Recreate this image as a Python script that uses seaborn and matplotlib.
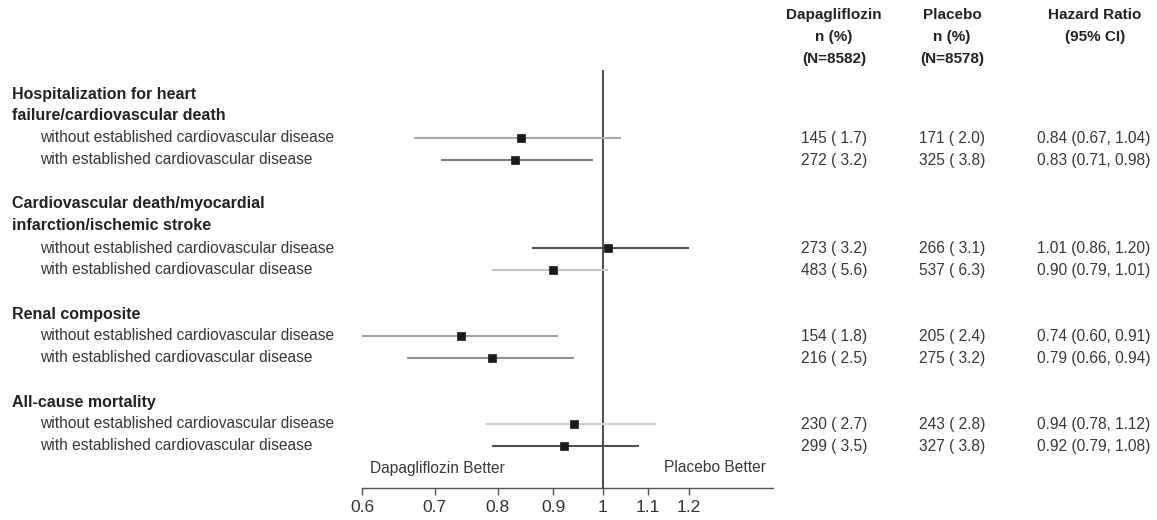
import numpy as np
import pandas as pd
import matplotlib
matplotlib.use("Agg")
import matplotlib.pyplot as plt
import seaborn as sns

# Endpoints and subgroup rows
endpoints = [
    "Hospitalization for heart\nfailure/cardiovascular death",
    "Cardiovascular death/myocardial\ninfarction/ischemic stroke",
    "Renal composite",
    "All-cause mortality",
]
subgroups = ["without established cardiovascular disease",
             "with established cardiovascular disease"]

# Per-row values (endpoint-major order: without, with)
dapa_n = [145, 272, 273, 483, 154, 216, 230, 299]
dapa_pct = [1.7, 3.2, 3.2, 5.6, 1.8, 2.5, 2.7, 3.5]
plac_n = [171, 325, 266, 537, 205, 275, 243, 327]
plac_pct = [2.0, 3.8, 3.1, 6.3, 2.4, 3.2, 2.8, 3.8]
hr = [0.84, 0.83, 1.01, 0.90, 0.74, 0.79, 0.94, 0.92]
ci_low = [0.67, 0.71, 0.86, 0.79, 0.60, 0.66, 0.78, 0.79]
ci_high = [1.04, 0.98, 1.20, 1.01, 0.91, 0.94, 1.12, 1.08]
ci_colors = ["#a8a8a8", "#7a7a7a", "#505050", "#c4c4c4",
             "#a0a0a0", "#909090", "#d0d0d0", "#505050"]

tick_values = [0.6, 0.7, 0.8, 0.9, 1, 1.1, 1.2]
tick_labels = ["0.6", "0.7", "0.8", "0.9", "1", "1.1", "1.2"]

sns.set_theme(style="white")
plt.rcParams["font.family"] = ["Liberation Sans", "DejaVu Sans"]

W, H = 1157, 520
fig = plt.figure(figsize=(W / 100, H / 100), dpi=100)

# Text line layout (line units, 22 px per line)
Y0, LH = 94, 22
row_lines = []
title_lines = []
line = 0
for e, name in enumerate(endpoints):
    title_lines.append(line)
    line += name.count("\n") + 1
    for s in range(2):
        row_lines.append(line)
        line += 1
    line += 1  # blank gap


def fy(L):
    return 1 - (Y0 + LH * L) / H


def fx(px):
    return px / W


# Forest axes: log-scaled x, y in line units
ax_left, ax_right = 362, 773
ax_top, ax_bottom = 70, 488
ax = fig.add_axes([fx(ax_left), 1 - ax_bottom / H,
                   (ax_right - ax_left) / W, (ax_bottom - ax_top) / H])
ax.set_xscale("log")
ax.set_xlim(0.6, 1.434)
ax.set_ylim((ax_bottom - Y0) / LH, (ax_top - Y0) / LH)

df = pd.DataFrame({"hr": hr, "lo": ci_low, "hi": ci_high,
                   "y": row_lines, "color": ci_colors})

for _, r in df.iterrows():
    ax.hlines(r["y"], r["lo"], r["hi"], color=r["color"], lw=1.5, zorder=2)
sns.scatterplot(data=df, x="hr", y="y", marker="s", s=32, color="#1a1a1a",
                edgecolor="#1a1a1a", linewidth=0.5, ax=ax, zorder=3, legend=False)
ax.axvline(1.0, color="#3a3a3a", lw=1.3, zorder=1)

for sp in ["left", "top", "right"]:
    ax.spines[sp].set_visible(False)
ax.spines["bottom"].set_color("#555555")
ax.spines["bottom"].set_linewidth(1.0)
ax.set_yticks([])
ax.set_xticks(tick_values)
ax.set_xticklabels(tick_labels)
ax.xaxis.set_minor_locator(matplotlib.ticker.NullLocator())
ax.tick_params(axis="x", direction="out", length=5, width=1, color="#555555",
               labelsize=12.5, labelcolor="#333333", pad=4, bottom=True)
ax.set_xlabel("")
ax.set_ylabel("")
ax.patch.set_alpha(0)

txt_color = "#383838"
fs = 11.2

# Endpoint titles and subgroup labels
for e, name in enumerate(endpoints):
    for k, part in enumerate(name.split("\n")):
        fig.text(fx(12), fy(title_lines[e] + k), part, fontsize=11.5,
                 fontweight="bold", color="#222222", va="center", ha="left")
for i, L in enumerate(row_lines):
    fig.text(fx(40), fy(L), subgroups[i % 2], fontsize=fs, color=txt_color,
             va="center", ha="left")

    fig.text(fx(801), fy(L), f"{dapa_n[i]} ( {dapa_pct[i]:.1f})", fontsize=fs,
             color=txt_color, va="center", ha="left")
    fig.text(fx(919), fy(L), f"{plac_n[i]} ( {plac_pct[i]:.1f})", fontsize=fs,
             color=txt_color, va="center", ha="left")
    fig.text(fx(1037), fy(L), f"{hr[i]:.2f} ({ci_low[i]:.2f}, {ci_high[i]:.2f})",
             fontsize=fs, color=txt_color, va="center", ha="left")

# Column headers
headers = [
    (834, ["Dapagliflozin", "n (%)", "(N=8582)"]),
    (952, ["Placebo", "n (%)", "(N=8578)"]),
    (1095, ["Hazard Ratio", "(95% CI)"]),
]
header_y = [15, 37, 59]
for cx, lines in headers:
    for k, t in enumerate(lines):
        fig.text(fx(cx), 1 - header_y[k] / H, t, fontsize=11, fontweight="bold",
                 color="#222222", ha="center", va="center")

# Direction labels
L_dir = line - 1
fig.text(fx(370), fy(L_dir), "Dapagliflozin Better", fontsize=fs,
         color=txt_color, ha="left", va="center")
fig.text(fx(766), fy(L_dir), "Placebo Better", fontsize=fs,
         color=txt_color, ha="right", va="center")

fig.savefig("out.png", dpi=100)
